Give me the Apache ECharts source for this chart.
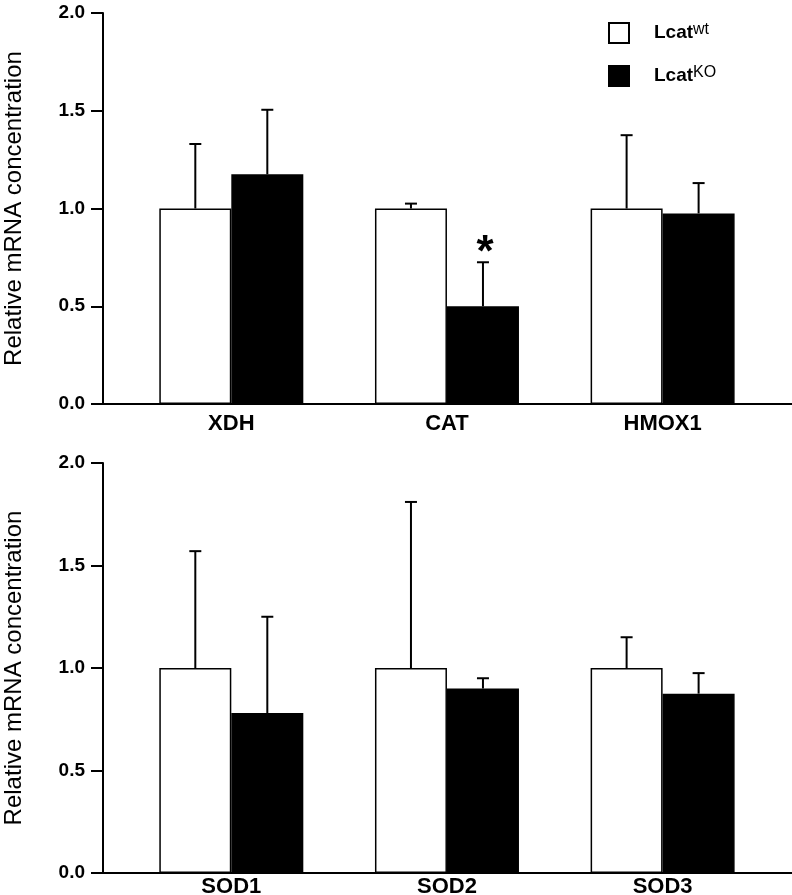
<!DOCTYPE html>
<html><head><meta charset="utf-8">
<script src="https://cdn.jsdelivr.net/npm/echarts@6/dist/echarts.min.js"></script>
<style>html,body{margin:0;padding:0;background:#fff}#c{width:792px;height:895px}</style>
</head><body><div id="c"></div>
<script>
// ---- data ----
const topCategories = ['XDH', 'CAT', 'HMOX1'];
const bottomCategories = ['SOD1', 'SOD2', 'SOD3'];
const categoryPos = [1, 2, 3];
const legendBase = 'Lcat';
const legendSup = ['wt', 'KO'];
const topWt = [1.0, 1.0, 1.0];
const topWtErr = [0.33, 0.025, 0.375];
const topKo = [1.175, 0.50, 0.975];
const topKoErr = [0.33, 0.225, 0.155];
const topKoMark = ['', '*', ''];
const bottomWt = [1.0, 1.0, 1.0];
const bottomWtErr = [0.57, 0.81, 0.15];
const bottomKo = [0.78, 0.90, 0.875];
const bottomKoErr = [0.47, 0.05, 0.10];
const bottomKoMark = ['', '', ''];
const yMin = 0, yMax = 2, yStep = 0.5;

// ---- styles ----
const FONT = 'Liberation Sans, Arial, Helvetica, sans-serif';
const BAR_W = 72, CAP = 12;
const names = legendSup.map(s => legendBase + s);

function errRender(side, marks) {
  return function (params, api) {
    const x = api.value(0), y = api.value(1), e = api.value(2);
    const p0 = api.coord([x, y]), p1 = api.coord([x, y + e]);
    const cx = p0[0] + side * BAR_W / 2;
    const ch = [
      {type: 'line', shape: {x1: cx, y1: p0[1], x2: cx, y2: p1[1]}, style: {stroke: '#000', lineWidth: 2}},
      {type: 'line', shape: {x1: cx - CAP / 2, y1: p1[1], x2: cx + CAP / 2, y2: p1[1]}, style: {stroke: '#000', lineWidth: 2}}
    ];
    const m = marks[params.dataIndex];
    if (m) ch.push({type: 'text', x: cx + 2, y: p1[1] - 8,
      style: {text: m, fontSize: 44, fontWeight: 'bold', fill: '#000', align: 'center', verticalAlign: 'middle', fontFamily: FONT}});
    return {type: 'group', children: ch};
  };
}

function xAxisFor(idx, cats, margin) {
  return {
    type: 'value', gridIndex: idx, min: 0.405, max: 3.6,
    axisLine: {show: true, lineStyle: {color: '#000', width: 2}},
    axisTick: {show: false}, splitLine: {show: false},
    axisLabel: {customValues: categoryPos, formatter: v => cats[Math.round(v) - 1],
      fontSize: 22, fontWeight: 'bold', color: '#000', margin: margin, fontFamily: FONT}
  };
}
function yAxisFor(idx) {
  return {
    type: 'value', gridIndex: idx, min: yMin, max: yMax, interval: yStep,
    name: 'Relative mRNA concentration', nameLocation: 'middle', nameGap: 77, nameRotate: 90,
    nameTextStyle: {fontSize: 24, color: '#000', fontFamily: FONT},
    axisLine: {show: true, lineStyle: {color: '#000', width: 2}},
    axisTick: {show: true, inside: false, length: 12, lineStyle: {color: '#000', width: 2}},
    splitLine: {show: false},
    axisLabel: {formatter: v => v.toFixed(1), fontSize: 19, fontWeight: 'bold', color: '#000', margin: 18, fontFamily: FONT}
  };
}
function panelSeries(idx, wt, wtErr, ko, koErr, koMark) {
  return [
    {name: names[0], type: 'bar', xAxisIndex: idx, yAxisIndex: idx, barWidth: BAR_W, barGap: '0%',
     itemStyle: {color: '#fff', borderColor: '#000', borderWidth: 1.5},
     data: categoryPos.map((x, i) => [x, wt[i]])},
    {name: names[1], type: 'bar', xAxisIndex: idx, yAxisIndex: idx, barWidth: BAR_W, barGap: '0%',
     itemStyle: {color: '#000', borderColor: '#000', borderWidth: 1.5},
     data: categoryPos.map((x, i) => [x, ko[i]])},
    {type: 'custom', xAxisIndex: idx, yAxisIndex: idx, z: 5, renderItem: errRender(-1, ['', '', '']),
     data: categoryPos.map((x, i) => [x, wt[i], wtErr[i]])},
    {type: 'custom', xAxisIndex: idx, yAxisIndex: idx, z: 5, renderItem: errRender(1, koMark),
     data: categoryPos.map((x, i) => [x, ko[i], koErr[i]])}
  ];
}

const chart = echarts.init(document.getElementById('c'), null, {renderer: 'canvas'});
chart.setOption({
  animation: false,
  backgroundColor: '#fff',
  textStyle: {fontFamily: FONT},
  grid: [
    {left: 103, right: 0, top: 13, height: 391, outerBoundsMode: 'none', containLabel: false},
    {left: 103, right: 0, top: 463, height: 410, outerBoundsMode: 'none', containLabel: false}
  ],
  xAxis: [xAxisFor(0, topCategories, 9), xAxisFor(1, bottomCategories, 3)],
  yAxis: [yAxisFor(0), yAxisFor(1)],
  legend: {
    orient: 'vertical', left: 603, top: 14, itemWidth: 20, itemHeight: 20, itemGap: 18,
    icon: 'rect', data: names,
    itemStyle: {borderColor: '#000', borderWidth: 2},
    formatter: n => '{m|' + legendBase + '}{s|' + legendSup[names.indexOf(n)] + '}',
    textStyle: {padding: [0, 0, 0, 20], rich: {
      m: {fontSize: 19, fontWeight: 'bold', color: '#000', lineHeight: 28, fontFamily: FONT},
      s: {fontSize: 16, color: '#000', lineHeight: 16, verticalAlign: 'top', padding: [3, 0, 0, 0], fontFamily: FONT}
    }}
  },
  series: [
    ...panelSeries(0, topWt, topWtErr, topKo, topKoErr, topKoMark),
    ...panelSeries(1, bottomWt, bottomWtErr, bottomKo, bottomKoErr, bottomKoMark)
  ]
});
</script>
</body></html>
